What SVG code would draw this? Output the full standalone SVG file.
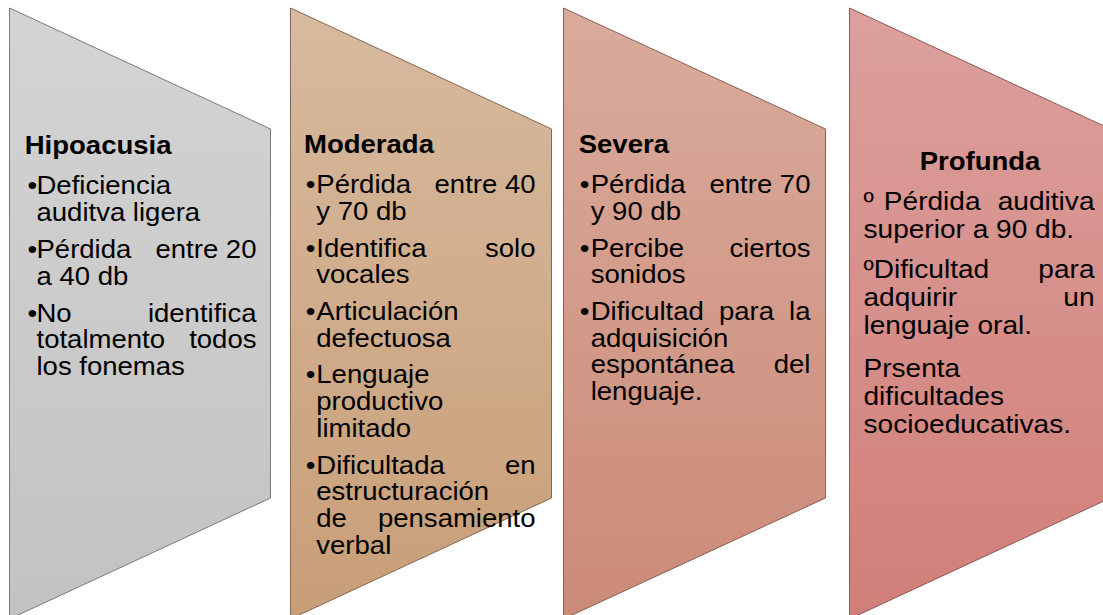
<svg xmlns="http://www.w3.org/2000/svg" width="1103" height="615" viewBox="0 0 1103 615">
<style>
.t{font-family:"Liberation Sans",Arial,sans-serif;font-size:25.5px;fill:#000}
.p4{font-size:26px}
.b{font-weight:bold}
.e{text-anchor:end}
.m{text-anchor:middle}
.shape{stroke-width:1}
</style>
<defs>
<linearGradient id="g1" x1="0" y1="0" x2="0" y2="1"><stop offset="0" stop-color="#d4d4d4"/><stop offset="1" stop-color="#c2c2c2"/></linearGradient>
<linearGradient id="g2" x1="0" y1="0" x2="0" y2="1"><stop offset="0" stop-color="#d7ba9f"/><stop offset="1" stop-color="#c89e77"/></linearGradient>
<linearGradient id="g3" x1="0" y1="0" x2="0" y2="1"><stop offset="0" stop-color="#d9ab9c"/><stop offset="1" stop-color="#cc8a78"/></linearGradient>
<linearGradient id="g4" x1="0" y1="0" x2="0" y2="1"><stop offset="0" stop-color="#dca09d"/><stop offset="1" stop-color="#d17e78"/></linearGradient>
</defs>
<g id="connectors"/>
<g id="hipoacusia">
<polygon class="shape" points="9.5,8 270.5,129 270.5,498 9.5,619" fill="url(#g1)" stroke="#7a7a7a"/>
<g transform="matrix(1.08 0 0 1 36.5 0)">
<text class="t b" x="-10.9" y="154">Hipoacusia</text>
<text class="t m" x="-3.8" y="194.3">•</text>
<text class="t" x="0" y="194.3">Deficiencia</text>
<text class="t" x="0" y="221">auditva ligera</text>
<text class="t m" x="-3.8" y="258">•</text>
<text class="t" x="0" y="258">Pérdida</text>
<text class="t e" x="203.7" y="258">entre 20</text>
<text class="t" x="0" y="284.7">a 40 db</text>
<text class="t m" x="-3.8" y="321.7">•</text>
<text class="t" x="0" y="321.7">No</text>
<text class="t e" x="203.7" y="321.7">identifica</text>
<text class="t" x="0" y="348.4">totalmento</text>
<text class="t e" x="203.7" y="348.4">todos</text>
<text class="t" x="0" y="375.1">los fonemas</text>
</g>
</g>
<g id="moderada">
<polygon class="shape" points="290.5,8 551.5,129 551.5,498 290.5,619" fill="url(#g2)" stroke="#86674f"/>
<g transform="matrix(1.08 0 0 1 316.3 0)">
<text class="t b" x="-11.4" y="153.5">Moderada</text>
<text class="t m" x="-5.2" y="193.3">•</text>
<text class="t" x="0" y="193.3">Pérdida</text>
<text class="t e" x="203" y="193.3">entre 40</text>
<text class="t" x="0" y="220">y 70 db</text>
<text class="t m" x="-5.2" y="256.7">•</text>
<text class="t" x="0" y="256.7">Identifica</text>
<text class="t e" x="203" y="256.7">solo</text>
<text class="t" x="0" y="283.4">vocales</text>
<text class="t m" x="-5.2" y="320.1">•</text>
<text class="t" x="0" y="320.1">Articulación</text>
<text class="t" x="0" y="346.8">defectuosa</text>
<text class="t m" x="-5.2" y="383.5">•</text>
<text class="t" x="0" y="383.5">Lenguaje</text>
<text class="t" x="0" y="410.2">productivo</text>
<text class="t" x="0" y="436.9">limitado</text>
<text class="t m" x="-5.2" y="473.6">•</text>
<text class="t" x="0" y="473.6">Dificultada</text>
<text class="t e" x="203" y="473.6">en</text>
<text class="t" x="0" y="500.3">estructuración</text>
<text class="t" x="0" y="527">de</text>
<text class="t e" x="203" y="527">pensamiento</text>
<text class="t" x="0" y="553.7">verbal</text>
</g>
</g>
<g id="severa">
<polygon class="shape" points="563.5,8 825.5,129 825.5,498 563.5,619" fill="url(#g3)" stroke="#8a5f55"/>
<g transform="matrix(1.08 0 0 1 590.7 0)">
<text class="t b" x="-11.1" y="153.3">Severa</text>
<text class="t m" x="-5.6" y="193.3">•</text>
<text class="t" x="0" y="193.3">Pérdida</text>
<text class="t e" x="203.5" y="193.3">entre 70</text>
<text class="t" x="0" y="220">y 90 db</text>
<text class="t m" x="-5.6" y="256.7">•</text>
<text class="t" x="0" y="256.7">Percibe</text>
<text class="t e" x="203.5" y="256.7">ciertos</text>
<text class="t" x="0" y="283.4">sonidos</text>
<text class="t m" x="-5.6" y="320.1">•</text>
<text class="t" x="0" y="320.1">Dificultad</text>
<text class="t" x="118.8" y="320.1">para</text>
<text class="t e" x="203.5" y="320.1">la</text>
<text class="t" x="0" y="346.8">adquisición</text>
<text class="t" x="0" y="373.5">espontánea</text>
<text class="t e" x="203.5" y="373.5">del</text>
<text class="t" x="0" y="400.2">lenguaje.</text>
</g>
</g>
<g id="profunda">
<polygon class="shape" points="849.5,8 1110.5,129 1110.5,498 849.5,619" fill="url(#g4)" stroke="#8c5a56"/>
<g transform="matrix(1.08 0 0 1 863.5 0)">
<text class="t b m" x="107.9" y="170">Profunda</text>
<text class="t p4" x="0" y="210">º</text>
<text class="t p4" x="18.8" y="210">Pérdida</text>
<text class="t p4 e" x="213.9" y="210">auditiva</text>
<text class="t p4" x="0" y="238.3">superior a 90 db.</text>
<text class="t p4" x="0" y="278.3">ºDificultad</text>
<text class="t p4 e" x="213.9" y="278.3">para</text>
<text class="t p4" x="0" y="306.3">adquirir</text>
<text class="t p4 e" x="213.9" y="306.3">un</text>
<text class="t p4" x="0" y="334.3">lenguaje oral.</text>
<text class="t p4" x="0" y="376.7">Prsenta</text>
<text class="t p4" x="0" y="404.7">dificultades</text>
<text class="t p4" x="0" y="432.7">socioeducativas.</text>
</g>
</g>
</svg>
